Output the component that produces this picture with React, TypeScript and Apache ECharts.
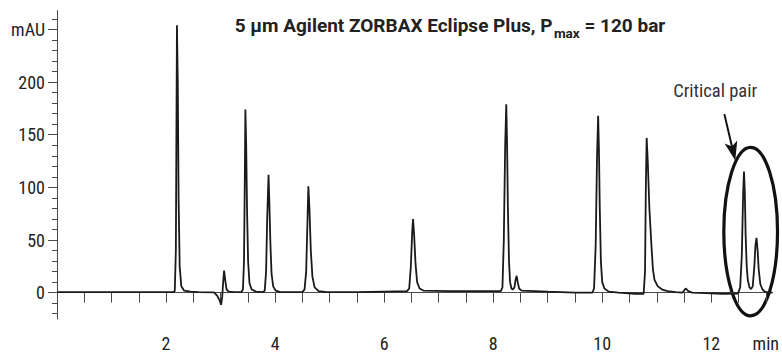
import React, { useEffect, useRef } from "react";
import * as echarts from "echarts";

// ---- Data (time in min, absorbance in mAU) ----
const traceStart: number[][] = [
  [0, 0.5], [1.0, 0.5], [2.0, 0.5], [2.13, 0.5], [2.16, 1.5], [2.18, 40], [2.19, 150],
  [2.2, 254], [2.215, 200], [2.23, 90], [2.25, 25], [2.28, 6], [2.33, 2], [2.45, 1],
];
const traceDip: number[][] = [
  [2.6, 0.5], [2.88, 0.3], [2.94, -3], [2.98, -7], [3.01, -11.5], [3.03, -4], [3.05, 12],
  [3.065, 21], [3.085, 12], [3.11, 3], [3.15, 1], [3.25, 0.5],
];
const tracePeaks3to5: number[][] = [
  [3.38, 0.5], [3.41, 3], [3.43, 30], [3.445, 110], [3.455, 174], [3.47, 140], [3.485, 80],
  [3.505, 30], [3.53, 9], [3.57, 3], [3.65, 1], [3.78, 0.5],
  [3.81, 2], [3.835, 20], [3.855, 70], [3.88, 112], [3.895, 85], [3.915, 45], [3.935, 18],
  [3.965, 6], [4.01, 2], [4.1, 0.5], [4.4, 0.5], [4.5, 0.8],
  [4.54, 3], [4.57, 20], [4.595, 70], [4.61, 101], [4.63, 80], [4.655, 40], [4.685, 15],
  [4.725, 5], [4.8, 1.5], [4.95, 0.5],
];
const tracePeaks6to8: number[][] = [
  [5.5, 0.5], [6.0, 1], [6.42, 1.5],
  [6.46, 4], [6.49, 25], [6.515, 58], [6.53, 70], [6.55, 55], [6.575, 28], [6.605, 10],
  [6.65, 4], [6.72, 2], [7.2, 1.5], [7.8, 1.5], [8.14, 1.5],
  [8.17, 5], [8.195, 50], [8.22, 140], [8.24, 179], [8.255, 140], [8.27, 80], [8.29, 30],
  [8.31, 10], [8.335, 4], [8.36, 3], [8.39, 5], [8.41, 12], [8.43, 16], [8.45, 10],
  [8.475, 4], [8.52, 2],
];
const tracePeaks9to10: number[][] = [
  [9.0, 1], [9.5, 0], [9.82, 0],
  [9.85, 4], [9.88, 45], [9.905, 130], [9.925, 168], [9.94, 135], [9.955, 80], [9.975, 30],
  [10.0, 10], [10.04, 4], [10.12, 1], [10.3, 0], [10.6, -1], [10.76, -1],
  [10.785, 20], [10.8, 100], [10.815, 147], [10.835, 125], [10.865, 80], [10.9, 47],
  [10.93, 22], [10.96, 12], [11.02, 6], [11.1, 3], [11.2, 1.5], [11.35, 0.5], [11.47, 0],
  [11.53, 4], [11.58, 1.5], [11.65, 0], [11.9, -0.5], [12.2, -1], [12.49, -0.8],
];
const traceCriticalPair: number[][] = [
  [12.53, 5], [12.56, 35], [12.585, 95], [12.6, 115], [12.615, 95], [12.63, 55], [12.65, 25],
  [12.67, 12], [12.7, 5], [12.73, 3.5], [12.76, 6], [12.79, 25], [12.81, 45], [12.83, 52],
  [12.85, 40], [12.87, 22], [12.9, 8], [12.94, 3], [12.98, 1], [13.05, 0], [13.12, 0],
];

// ---- Axis ticks / labels ----
const xTickValues = [0.5, 1, 1.5, 2, 2.5, 3, 3.5, 4, 4.5, 5, 5.5, 6, 6.5, 7, 7.5, 8, 8.5, 9, 9.5, 10, 10.5, 11, 11.5, 12, 12.5, 13];
const xLabelValues = [2, 4, 6, 8, 10, 12, 13];
const xUnitValue = 13;
const xUnit = "min";
const yMajorValues = [0, 50, 100, 150, 200, 250];
const yMinorValues = [-20, -10, 10, 20, 30, 40, 60, 70, 80, 90, 110, 120, 130, 140, 160, 170, 180, 190, 210, 220, 230, 240, 260];
const yUnitValue = 250;
const yUnit = "mAU";

// ---- Annotations (data coordinates) ----
const titleMain = "5 µm Agilent ZORBAX Eclipse Plus, P";
const titleSub = "max";
const titleEnd = " = 120 bar";
const criticalLabel = "Critical pair";
const labelAt = [12.07, 191.5];
const arrowFrom = [12.24, 169.6];
const arrowTo = [12.44, 125.6];
const ellipseMin = [12.23, -22];
const ellipseMax = [13.215, 138];

const FONT = "'Roboto Condensed', Roboto, 'Liberation Sans', sans-serif";
const TITLE_FONT = "Roboto, 'Liberation Sans', sans-serif";
const INK = "#1a1a1a";
const AXIS = "#4a4a4a";

export default function App() {
  const ref = useRef<HTMLDivElement>(null);
  useEffect(() => {
    document.body.style.margin = "0";
    const chart = echarts.init(ref.current!, null, { renderer: "svg" });
    const trace = [
      ...traceStart, ...traceDip, ...tracePeaks3to5, ...tracePeaks6to8,
      ...tracePeaks9to10, ...traceCriticalPair,
    ];
    chart.setOption({
      animation: false,
      grid: { left: 57, right: 7, top: 10.5, bottom: 30.3, containLabel: false },
      xAxis: {
        type: "value",
        min: 0,
        max: 13.12,
        axisLine: { show: true, lineStyle: { color: AXIS, width: 1 } },
        axisTick: { show: true, length: 10, customValues: xTickValues, lineStyle: { color: AXIS, width: 1 } },
        axisLabel: {
          customValues: xLabelValues,
          margin: 15,
          fontSize: 18,
          fontFamily: FONT,
          color: "#222",
          formatter: (v: number) => (v === xUnitValue ? xUnit : String(v)),
        },
        splitLine: { show: false },
      },
      yAxis: [
        {
          type: "value",
          min: -25,
          max: 268,
          axisLine: { show: true, lineStyle: { color: AXIS, width: 1 } },
          axisTick: { show: true, length: 9, customValues: yMajorValues, lineStyle: { color: AXIS, width: 1 } },
          axisLabel: {
            customValues: yMajorValues,
            margin: 12,
            fontSize: 18,
            fontFamily: FONT,
            color: "#222",
            formatter: (v: number) => (v === yUnitValue ? yUnit : String(v)),
          },
          splitLine: { show: false },
        },
        {
          type: "value",
          min: -25,
          max: 268,
          position: "left",
          axisLine: { show: false },
          axisTick: { show: true, length: 5, customValues: yMinorValues, lineStyle: { color: AXIS, width: 1 } },
          axisLabel: { show: false },
          splitLine: { show: false },
        },
      ],
      series: [
        {
          type: "line",
          data: trace,
          showSymbol: false,
          symbol: "none",
          lineStyle: { color: INK, width: 1.8 },
          clip: false,
        },
      ],
    });

    // title with subscript, measured so the pieces join
    const ctx = document.createElement("canvas").getContext("2d")!;
    const mainFont = `bold 19px ${TITLE_FONT}`;
    const subFont = `bold 13.5px ${TITLE_FONT}`;
    ctx.font = mainFont;
    const w1 = ctx.measureText(titleMain).width;
    const w3 = ctx.measureText(titleEnd).width;
    ctx.font = subFont;
    const w2 = ctx.measureText(titleSub).width;
    const gap = 1.5;
    const total = w1 + gap + w2 + w3;
    const tx = 450 - total / 2;

    const p = (d: number[]) => chart.convertToPixel({ gridIndex: 0 }, d) as number[];
    const lab = p(labelAt);
    const a0 = p(arrowFrom);
    const a1 = p(arrowTo);
    const e0 = p(ellipseMin);
    const e1 = p(ellipseMax);
    const dx = a1[0] - a0[0];
    const dy = a1[1] - a0[1];
    const len = Math.hypot(dx, dy);
    const ux = dx / len;
    const uy = dy / len;
    const headLen = 19;
    const headHalf = 6.5;
    const bx = a1[0] - ux * headLen;
    const by = a1[1] - uy * headLen;
    const nx = -uy;
    const ny = ux;

    chart.setOption({
      graphic: [
        { type: "text", x: tx, y: 25.5, style: { text: titleMain, font: mainFont, fill: "#222", verticalAlign: "middle" } },
        { type: "text", x: tx + w1 + gap, y: 33, style: { text: titleSub, font: subFont, fill: "#222", verticalAlign: "middle" } },
        { type: "text", x: tx + w1 + gap + w2, y: 25.5, style: { text: titleEnd, font: mainFont, fill: "#222", verticalAlign: "middle" } },
        { type: "text", x: lab[0], y: lab[1], style: { text: criticalLabel, font: `normal 18.5px ${FONT}`, fill: "#333", align: "center", verticalAlign: "middle" } },
        {
          type: "line",
          shape: { x1: a0[0], y1: a0[1], x2: a1[0] - ux * 8, y2: a1[1] - uy * 8 },
          style: { stroke: "#111", lineWidth: 2 },
        },
        {
          type: "polygon",
          shape: {
            points: [
              [a1[0], a1[1]],
              [bx + nx * headHalf, by + ny * headHalf],
              [a1[0] - ux * headLen * 0.75, a1[1] - uy * headLen * 0.75],
              [bx - nx * headHalf, by - ny * headHalf],
            ],
          },
          style: { fill: "#111" },
        },
        {
          type: "ellipse",
          shape: {
            cx: (e0[0] + e1[0]) / 2,
            cy: (e0[1] + e1[1]) / 2,
            rx: Math.abs(e1[0] - e0[0]) / 2,
            ry: Math.abs(e1[1] - e0[1]) / 2,
          },
          style: { fill: "none", stroke: "#111", lineWidth: 3.2 },
        },
      ],
    });
    return () => chart.dispose();
  }, []);
  return <div ref={ref} style={{ width: 782, height: 352 }} />;
}
